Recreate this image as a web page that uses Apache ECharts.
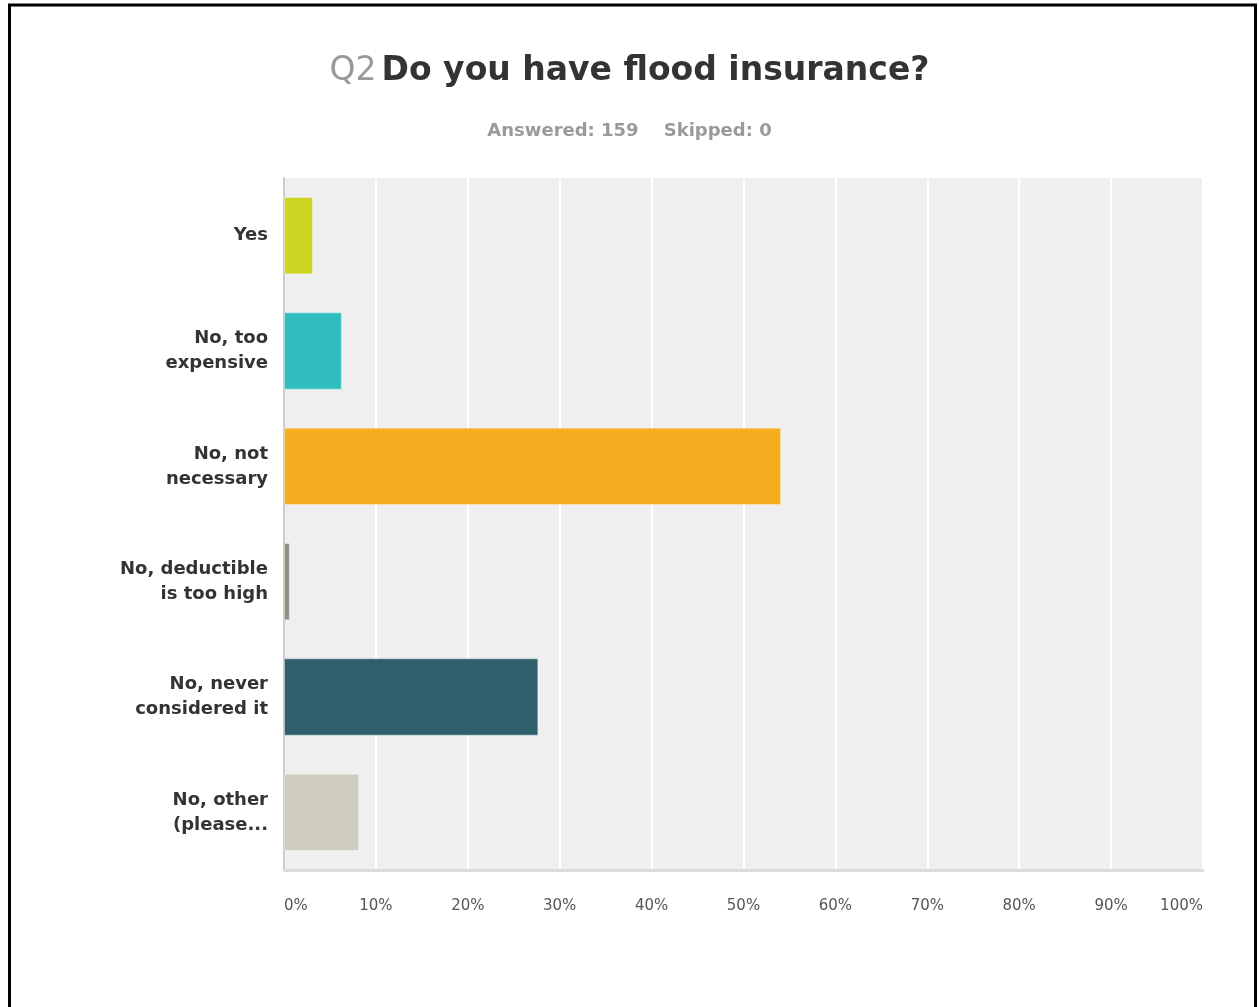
<!DOCTYPE html>
<html>
<head>
<meta charset="utf-8">
<style>
  html, body { margin: 0; padding: 0; background: #fff; }
  #chart { width: 1259px; height: 1007px; }
</style>
<script src="https://cdn.jsdelivr.net/npm/echarts@6/dist/echarts.min.js"></script>
</head>
<body>
<div id="chart"></div>
<script>
// Answer choices, top to bottom
const categories = [
  'Yes',
  'No, too\nexpensive',
  'No, not\nnecessary',
  'No, deductible\nis too high',
  'No, never\nconsidered it',
  'No, other\n(please...'
];
// Share of respondents (%) for each answer
const percentages = [3.14, 6.29, 54.09, 0.63, 27.67, 8.18];
// One colour per answer
const barColors = ['#cdd422', '#32bec0', '#f5ad1f', '#8f8f80', '#2e5f6b', '#cfcdc0'];
const tickValues = [0, 10, 20, 30, 40, 50, 60, 70, 80, 90, 100];

const FONT = 'DejaVu Sans';
const chart = echarts.init(document.getElementById('chart'), null, { renderer: 'canvas' });

chart.setOption({
  animation: false,
  backgroundColor: '#ffffff',
  title: [
    {
      text: '{q|Q2} {t|Do you have flood insurance?}',
      left: 'center',
      top: 50,
      textStyle: {
        rich: {
          q: { fontFamily: FONT, fontSize: 33, color: '#999999', fontWeight: 'normal' },
          t: { fontFamily: FONT, fontSize: 33, color: '#333333', fontWeight: 'bold' }
        }
      }
    },
    {
      text: 'Answered: 159    Skipped: 0',
      left: 'center',
      top: 117,
      textStyle: { fontFamily: FONT, fontSize: 18, fontWeight: 'bold', color: '#9a9a9a' }
    }
  ],
  graphic: [
    {
      type: 'rect',
      shape: { x: 9.5, y: 5, width: 1246, height: 1020 },
      style: { fill: null, stroke: '#000000', lineWidth: 3 },
      silent: true,
      z: 100
    }
  ],
  grid: {
    left: 284,
    right: 56,
    top: 178,
    bottom: 137,
    show: true,
    backgroundColor: '#efefef',
    borderWidth: 0
  },
  xAxis: {
    type: 'value',
    min: 0,
    max: 100,
    interval: 10,
    axisLine: { show: true, lineStyle: { color: '#dcdcdc', width: 3 } },
    axisTick: { show: false },
    splitLine: { show: true, lineStyle: { color: '#ffffff', width: 2 } },
    axisLabel: {
      margin: 29,
      fontFamily: FONT,
      fontSize: 15,
      color: '#555555',
      alignMinLabel: 'left',
      alignMaxLabel: 'right',
      formatter: v => tickValues.includes(v) ? v + '%' : ''
    }
  },
  yAxis: {
    type: 'category',
    inverse: true,
    data: categories,
    axisLine: { show: true, lineStyle: { color: '#cccccc', width: 2 } },
    axisTick: { show: false },
    axisLabel: {
      margin: 16,
      fontFamily: FONT,
      fontSize: 18,
      fontWeight: 'bold',
      color: '#333333',
      lineHeight: 25,
      align: 'right'
    }
  },
  series: [
    {
      type: 'bar',
      data: percentages.map((v, i) => ({
        value: v,
        itemStyle: { color: barColors[i], borderColor: 'rgba(255,255,255,0.35)', borderWidth: 1 }
      })),
      barCategoryGap: '33%',
      silent: true
    }
  ]
});
</script>
</body>
</html>
